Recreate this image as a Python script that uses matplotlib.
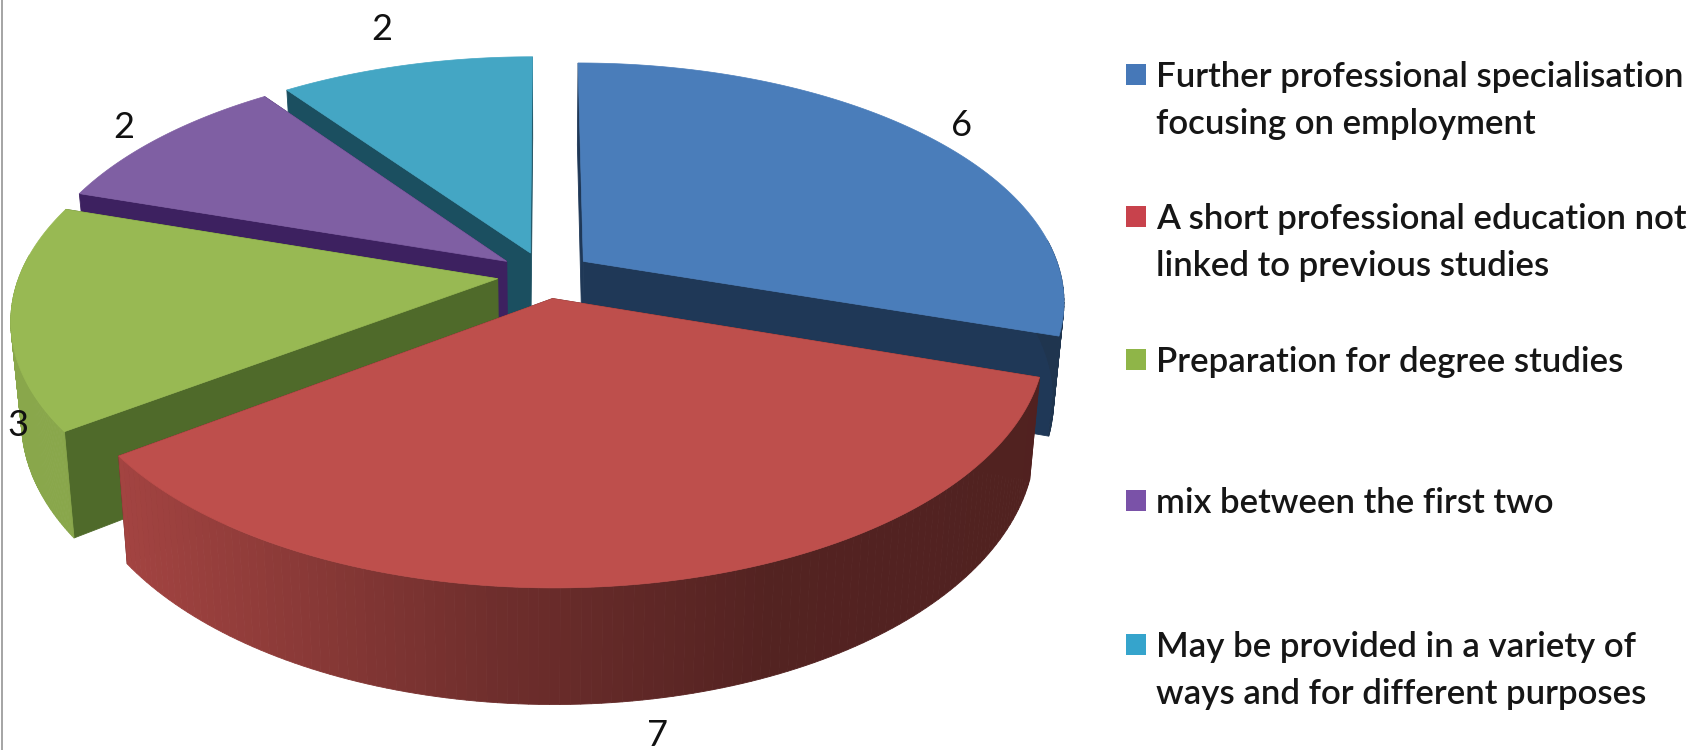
import numpy as np
import matplotlib
matplotlib.use("Agg")
import matplotlib.pyplot as plt
from matplotlib.patches import Rectangle

# ---- data ----
categories = ["Further professional specialisation\nfocusing on employment",
              "A short professional education not\nlinked to previous studies",
              "Preparation for degree studies",
              "mix between the first two",
              "May be provided in a variety of\nways and for different purposes"]
values = [6, 7, 3, 2, 2]

# ---- styles ----
top_colors = ["#4a7dba", "#be4f4c", "#98b953", "#7f5fa3", "#44a6c4"]
cut_colors = ["#1f3857", "#5a2320", "#4f6a2a", "#3d2160", "#1b4f60"]
swatch_colors = ["#4678b8", "#c8424c", "#8fb548", "#7a52a8", "#35a4cc"]

# placement of the value labels and the legend rows, in pixels
value_label_xy = [(962, 126), (658, 736), (18, 425), (124, 127), (382, 30)]
legend_baseline = [87, 229, 372, 513, 657]
LINE_STEP = 47.5

# projection of the pie
CX, CY = 545.0, 275.0
SX, SY = 478.0, 234.4
PERSP = 0.161
DEPTH = 96.0
BOTTOM_SCALE = 0.98
EXPLODE = 0.10
PAINT_ORDER = [4, 3, 0, 2, 1]


def project(x, y, z=0.0):
    """Disc coordinates to pixels; z=0 top face, z=1 bottom face."""
    x, y = np.asarray(x, float), np.asarray(y, float)
    w = 1 + PERSP * y
    sc = 1 - (1 - BOTTOM_SCALE) * z
    return CX + SX * x / w * sc, CY - SY * y / w + DEPTH * z / w


def shade(color, f):
    return tuple(min(1, c * f) for c in matplotlib.colors.to_rgb(color))


def wall_factor(px):
    return np.interp(px, [60, 130, 500, 760, 1100], [0.90, 0.85, 0.58, 0.44, 0.42])


fig = plt.figure(figsize=(17.08, 7.5), dpi=100, facecolor="white")
ax = fig.add_axes([0, 0, 1, 1])
ax.set_xlim(0, 1708)
ax.set_ylim(750, 0)
ax.axis("off")

ax.add_patch(Rectangle((1, 0), 2.4, 750, facecolor="#a6a6a6", edgecolor="none"))

fractions = np.cumsum([0] + values) / sum(values)
angles = 2 * np.pi * fractions

for i in PAINT_ORDER:
    a0, a1 = angles[i], angles[i + 1]
    mid = (a0 + a1) / 2
    ox, oy = EXPLODE * np.sin(mid), EXPLODE * np.cos(mid)
    t = np.linspace(a0, a1, 121)
    xs, ys = ox + np.sin(t), oy + np.cos(t)

    # the two radial cut faces
    for a in (a0, a1):
        ex, ey = ox + np.sin(a), oy + np.cos(a)
        p0 = project(ox, oy, 0)
        p1 = project(ex, ey, 0)
        p2 = project(ex, ey, 1)
        p3 = project(ox, oy, 1)
        ax.fill([p0[0], p1[0], p2[0], p3[0]], [p0[1], p1[1], p2[1], p3[1]],
                facecolor=cut_colors[i], edgecolor=cut_colors[i], linewidth=0.6)

    # outer wall as narrow shaded strips, only the part facing the viewer
    tx, ty = project(xs, ys, 0)
    bx, by = project(xs, ys, 1)
    for k in range(len(t) - 1):
        if np.cos((t[k] + t[k + 1]) / 2) > 0.1:
            continue
        c = shade(top_colors[i], wall_factor((tx[k] + tx[k + 1]) / 2))
        ax.fill([tx[k], tx[k + 1], bx[k + 1], bx[k]],
                [ty[k], ty[k + 1], by[k + 1], by[k]],
                facecolor=c, edgecolor=c, linewidth=0.6)

    # top face
    fx, fy = project(np.r_[ox, xs], np.r_[oy, ys], 0)
    ax.fill(fx, fy, facecolor=top_colors[i], edgecolor=top_colors[i], linewidth=0.5)

# value labels
for v, (lx, ly) in zip(values, value_label_xy):
    ax.text(lx, ly, str(v), ha="center", va="center", fontsize=26,
            family="Lato", color="#111111")

# legend
for name, col, base in zip(categories, swatch_colors, legend_baseline):
    ax.add_patch(Rectangle((1126, base - 23), 20, 21, facecolor=col, edgecolor="none"))
    for j, line in enumerate(name.split("\n")):
        ax.text(1156, base + j * LINE_STEP, line, ha="left", va="baseline",
                fontsize=25.1, family="Lato", weight=600, color="#161616")

fig.savefig("out.png", dpi=100, facecolor="white")
